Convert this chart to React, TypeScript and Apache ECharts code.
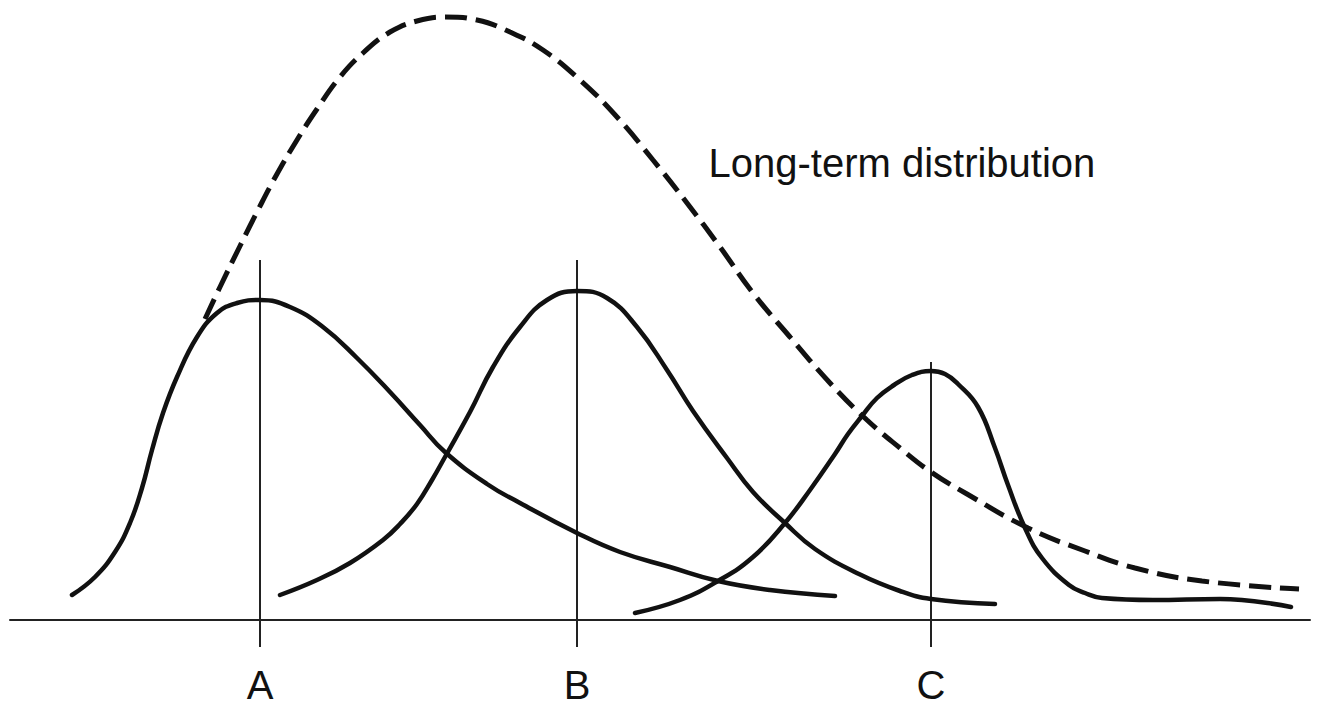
import React, { useEffect, useRef } from "react";
import * as echarts from "echarts";

// Values in chart units: x = horizontal position, y = height above the baseline
const curveA: [number, number][] = [
  [72, 25], [95, 43], [115, 68], [130, 97], [142, 132], [152, 170], [163, 207],
  [177, 243], [197, 283], [217, 307], [237, 317], [260, 320], [290, 313], [323, 293],
  [357, 262], [390, 228], [420, 195], [445, 168], [487, 136], [520, 117], [577, 87],
  [620, 68], [670, 53], [718, 39], [770, 30], [835, 24],
];
const curveB: [number, number][] = [
  [280, 25], [317, 40], [350, 57], [383, 80], [400, 96], [417, 116], [432, 140],
  [445, 163], [470, 208], [493, 253], [520, 293], [547, 320], [577, 329], [607, 322],
  [637, 293], [667, 250], [693, 209], [727, 162], [753, 128], [785, 97], [815, 71],
  [859, 46], [900, 29], [931, 21], [995, 16],
];
const curveC: [number, number][] = [
  [635, 7], [680, 20], [718, 39], [753, 63], [785, 97], [810, 130], [835, 166],
  [848, 186], [862, 204], [877, 222], [894, 235], [912, 245], [931, 249], [945, 246],
  [958, 236], [978, 213], [995, 172], [1008, 135], [1025, 92], [1042, 62], [1069, 35],
  [1085, 27], [1102, 22], [1153, 20], [1220, 21], [1291, 13],
];
const longTerm: [number, number][] = [
  [205, 301], [220, 333], [240, 374], [257, 408], [277, 446], [297, 480], [317, 511],
  [340, 543], [363, 567], [390, 588], [417, 599], [445, 603], [477, 600], [510, 588],
  [543, 570], [580, 540], [617, 503], [653, 460], [687, 417], [720, 373], [753, 327],
  [790, 283], [830, 237], [867, 200], [900, 172], [931, 148], [967, 126], [1028, 92],
  [1085, 69], [1135, 52], [1202, 39], [1299, 31],
];
const markerLabels = ["A", "B", "C"];
const markerX = [260, 577, 931];
const markerTop = [360, 360, 258];
const markerBottom = -27;
const labelY = -65;
const annotationText = "Long-term distribution";
const annotationPos: [number, number] = [708, 457.5];

const INK = "#111111";
const FONT = "'Liberation Sans', Arial, Helvetica, sans-serif";

export default function App() {
  const ref = useRef<HTMLDivElement>(null);
  useEffect(() => {
    if (!ref.current) return;
    const chart = echarts.init(ref.current, undefined, { renderer: "svg" });
    const solid = (name: string, data: [number, number][]) => ({
      name,
      type: "line",
      data,
      smooth: 0.45,
      symbol: "none",
      silent: true,
      lineStyle: { color: INK, width: 4.5, cap: "round" },
      z: 3,
    });
    const markers = markerX.map((x, i) => ({
      name: "marker " + markerLabels[i],
      type: "line",
      data: [
        [x, markerBottom],
        [x, markerTop[i]],
      ],
      symbol: "none",
      silent: true,
      lineStyle: { color: "#222222", width: 2 },
      z: 2,
    }));
    const textStyle = {
      show: true,
      formatter: "{b}",
      color: INK,
      opacity: 1,
      fontSize: 40,
      fontFamily: FONT,
      verticalAlign: "middle",
      textBorderWidth: 0,
    };
    chart.setOption({
      animation: false,
      backgroundColor: "#ffffff",
      grid: { left: 10, right: 17, top: 0, bottom: 0 },
      xAxis: {
        type: "value",
        min: 10,
        max: 1310,
        axisLine: { show: true, onZero: true, lineStyle: { color: "#222222", width: 2 } },
        axisTick: { show: false },
        axisLabel: { show: false },
        splitLine: { show: false },
      },
      yAxis: {
        type: "value",
        min: -86,
        max: 620,
        axisLine: { show: false },
        axisTick: { show: false },
        axisLabel: { show: false },
        splitLine: { show: false },
      },
      series: [
        ...markers,
        solid("A", curveA),
        solid("B", curveB),
        solid("C", curveC),
        {
          name: "Long-term",
          type: "line",
          data: longTerm,
          smooth: 0.45,
          symbol: "none",
          silent: true,
          lineStyle: { color: INK, width: 5, type: [22, 9] },
          z: 3,
        },
        {
          name: "labels",
          type: "scatter",
          silent: true,
          symbolSize: 1,
          itemStyle: { color: "#ffffff", opacity: 0 },
          data: markerX.map((x, i) => ({ name: markerLabels[i], value: [x, labelY] })),
          label: { ...textStyle, position: "inside", align: "center" },
          z: 4,
        },
        {
          name: "annotation",
          type: "scatter",
          silent: true,
          symbolSize: 1,
          itemStyle: { color: "#ffffff", opacity: 0 },
          data: [{ name: annotationText, value: annotationPos }],
          label: { ...textStyle, position: "right", distance: 0, align: "left" },
          z: 4,
        },
      ],
    });
    return () => chart.dispose();
  }, []);
  return (
    <div
      ref={ref}
      style={{ position: "fixed", left: 0, top: 0, width: 1327, height: 706, background: "#fff" }}
    />
  );
}
